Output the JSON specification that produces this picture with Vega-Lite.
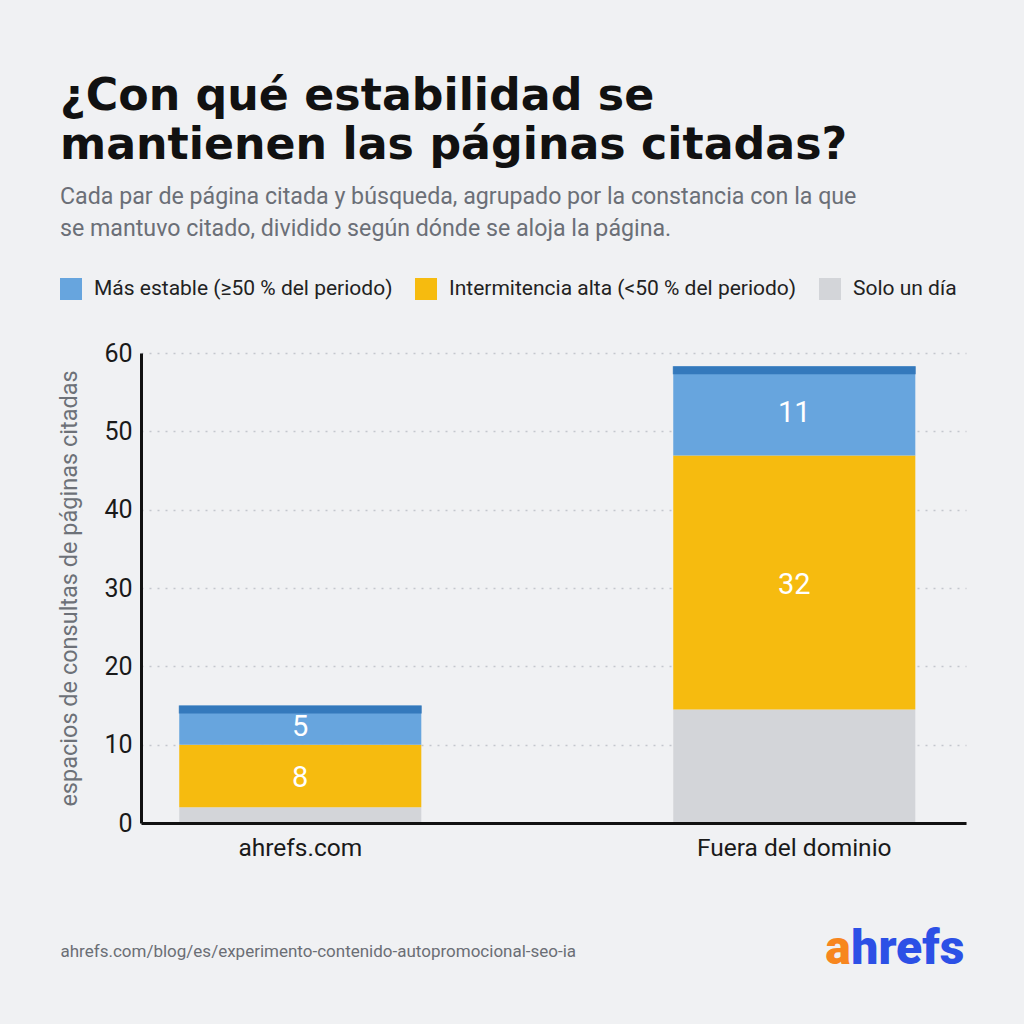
{
  "$schema": "https://vega.github.io/schema/vega-lite/v6.json",
  "width": 825,
  "height": 470,
  "autosize": "none",
  "padding": {"left": 141, "top": 353, "right": 58, "bottom": 201},
  "background": "#f0f1f3",
  "config": {"view": {"stroke": null}, "font": "Roboto"},
  "title": {
    "text": ["¿Con qué estabilidad se", "mantienen las páginas citadas?"],
    "subtitle": ["Cada par de página citada y búsqueda, agrupado por la constancia con la que", "se mantuvo citado, dividido según dónde se aloja la página."],
    "anchor": "start",
    "frame": "group",
    "dx": -81,
    "offset": 38,
    "font": "DejaVu Sans",
    "fontSize": 44.3,
    "fontWeight": "bold",
    "color": "#111111",
    "lineHeight": 49,
    "subtitleFont": "Roboto",
    "subtitleFontSize": 23.2,
    "subtitleColor": "#6b6f77",
    "subtitleLineHeight": 32,
    "subtitlePadding": 18
  },
  "data": {
    "values": [
      {"grupo": "ahrefs.com", "categoria": "Solo un día", "nivel": 1, "valor": 2},
      {"grupo": "ahrefs.com", "categoria": "Intermitencia alta (<50 % del periodo)", "nivel": 2, "valor": 8},
      {"grupo": "ahrefs.com", "categoria": "Más estable (≥50 % del periodo)", "nivel": 3, "valor": 5},
      {"grupo": "Fuera del dominio", "categoria": "Solo un día", "nivel": 1, "valor": 14.5},
      {"grupo": "Fuera del dominio", "categoria": "Intermitencia alta (<50 % del periodo)", "nivel": 2, "valor": 32.4},
      {"grupo": "Fuera del dominio", "categoria": "Más estable (≥50 % del periodo)", "nivel": 3, "valor": 11.4}
    ]
  },
  "encoding": {
    "x": {
      "field": "grupo",
      "type": "nominal",
      "sort": ["ahrefs.com", "Fuera del dominio"],
      "scale": {"paddingInner": 0.51, "paddingOuter": 0.09, "align": 0.43},
      "axis": {
        "title": "ahrefs.com/blog/es/experimento-contenido-autopromocional-seo-ia",
        "labelAngle": 0,
        "ticks": false,
        "domainWidth": 3,
        "domainColor": "#111111",
        "labelFontSize": 24.5,
        "labelColor": "#1a1a1a",
        "labelPadding": 13,
        "labelLimit": 400,
        "titleFontSize": 17,
        "titleColor": "#6b6e75",
        "titleFontWeight": "normal",
        "titleAnchor": "start",
        "titleAlign": "left",
        "titleX": -81,
        "titleY": 133,
        "titleBaseline": "alphabetic",
        "zindex": 1
      }
    }
  },
  "layer": [
    {
      "mark": {"type": "bar"},
      "encoding": {
        "y": {
          "field": "valor",
          "type": "quantitative",
          "stack": "zero",
          "scale": {"domain": [0, 60]},
          "axis": {
            "title": "espacios de consultas de páginas citadas",
            "values": [0, 10, 20, 30, 40, 50, 60],
            "ticks": false,
            "domainWidth": 3,
            "domainColor": "#111111",
            "labelFontSize": 25,
            "labelColor": "#1a1a1a",
            "labelPadding": 9,
            "gridDash": [2, 6],
            "gridColor": "#c3c7cd",
            "gridWidth": 1.5,
            "titleFontSize": 23.5,
            "titleFontWeight": "normal",
            "titleColor": "#6d7178",
            "titlePadding": 22
          }
        },
        "color": {
          "field": "categoria",
          "type": "nominal",
          "scale": {
            "domain": ["Más estable (≥50 % del periodo)", "Intermitencia alta (<50 % del periodo)", "Solo un día"],
            "range": ["#67a5de", "#f6bb0f", "#d3d5d9"]
          },
          "legend": {
            "orient": "none",
            "legendX": -81,
            "legendY": -75,
            "direction": "horizontal",
            "title": null,
            "symbolType": "square",
            "symbolSize": 484,
            "symbolStrokeWidth": 0,
            "symbolOpacity": 1,
            "labelFontSize": 21,
            "labelColor": "#222222",
            "labelOffset": 12,
            "columnPadding": 22,
            "labelLimit": 500
          }
        },
        "order": {"field": "nivel", "type": "quantitative"}
      }
    },
    {
      "transform": [{"aggregate": [{"op": "sum", "field": "valor", "as": "total"}], "groupby": ["grupo"]}],
      "mark": {"type": "tick", "thickness": 8, "size": 243, "yOffset": 4, "color": "#1f67ae", "orient": "horizontal"},
      "encoding": {
        "y": {"field": "total", "type": "quantitative", "title": "espacios de consultas de páginas citadas"}
      }
    },
    {
      "mark": {"type": "text", "color": "#ffffff", "fontSize": 29, "dy": 2, "baseline": "middle"},
      "encoding": {
        "y": {"field": "valor", "type": "quantitative", "stack": "zero", "bandPosition": 0.5, "title": "espacios de consultas de páginas citadas"},
        "detail": {"field": "categoria", "type": "nominal"},
        "order": {"field": "nivel", "type": "quantitative"},
        "text": {
          "condition": {"test": "datum.categoria === 'Solo un día'", "value": ""},
          "field": "valor",
          "type": "quantitative",
          "format": ".0f"
        }
      }
    },
    {
      "data": {"values": [{"marca": "a"}]},
      "mark": {"type": "text", "align": "left", "baseline": "alphabetic", "dx": 31, "font": "Roboto", "fontSize": 48, "fontWeight": 900, "color": "#f7861e"},
      "encoding": {
        "x": {"datum": "Fuera del dominio"},
        "y": {"datum": -18},
        "text": {"field": "marca", "type": "nominal"}
      }
    },
    {
      "data": {"values": [{"marca": "hrefs"}]},
      "mark": {"type": "text", "align": "left", "baseline": "alphabetic", "dx": 57, "font": "Roboto", "fontSize": 48, "fontWeight": 900, "color": "#2c50e6"},
      "encoding": {
        "x": {"datum": "Fuera del dominio"},
        "y": {"datum": -18},
        "text": {"field": "marca", "type": "nominal"}
      }
    }
  ]
}
